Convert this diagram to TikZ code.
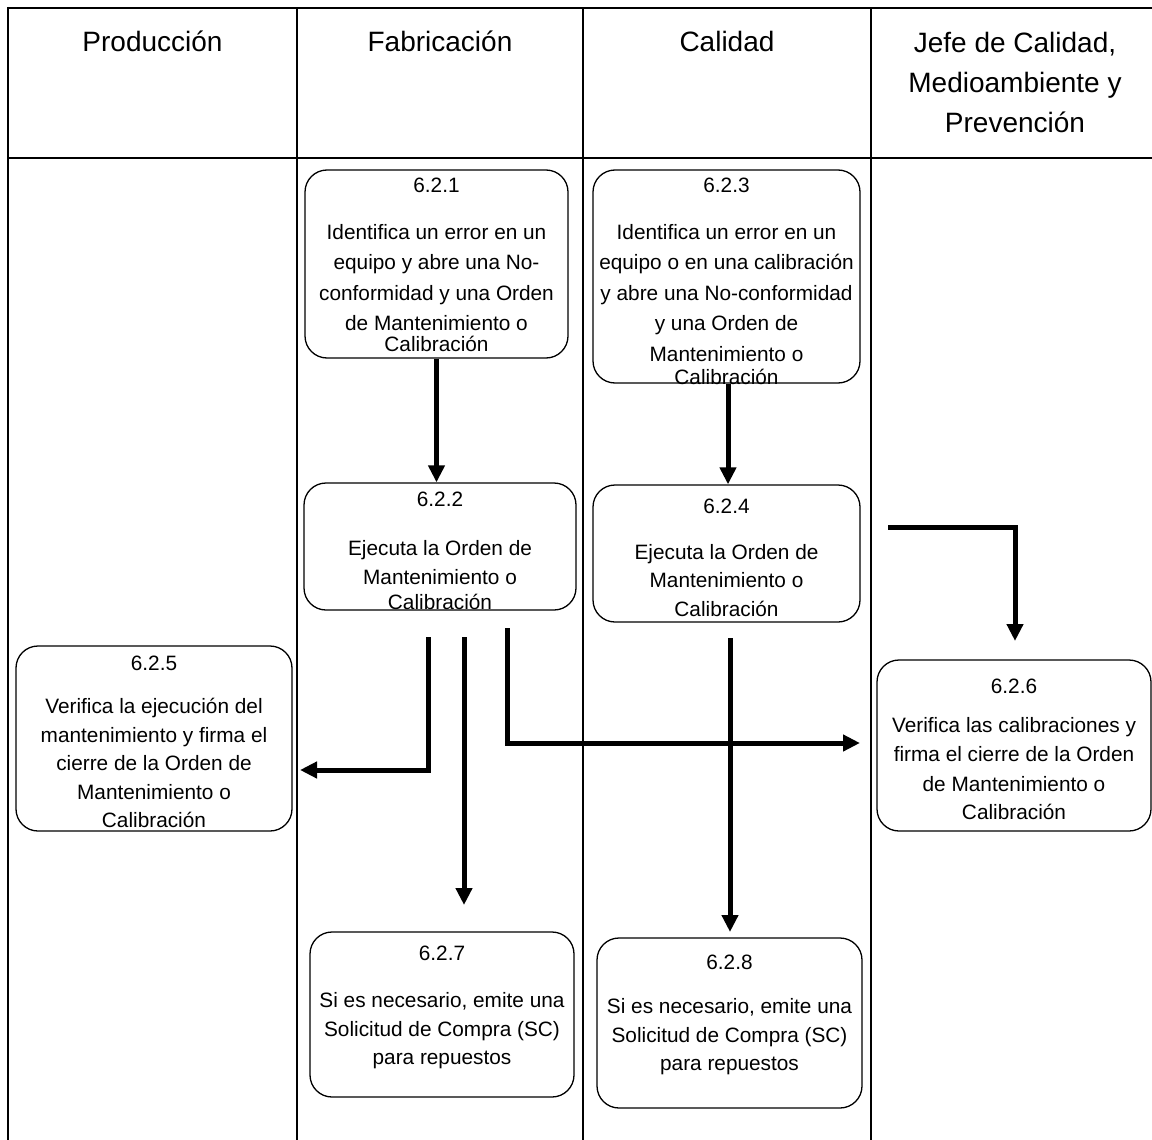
\documentclass[tikz,border=0pt]{standalone}
\usepackage{fontspec}
\setmainfont{Liberation Sans}
\usetikzlibrary{arrows.meta}

\begin{document}
\begin{tikzpicture}[x=1pt,y=-1pt,
  lane/.style={line width=1.6pt},
  frame/.style={line width=2.4pt},
  box/.style={draw, line width=1.3pt, rounded corners=22pt, inner sep=0pt},
  boxtext/.style={font=\fontsize{20.8}{28.5}\selectfont, align=center, anchor=north, inner sep=0pt},
  head/.style={font=\fontsize{28}{40}\selectfont, align=center, anchor=base, inner sep=0pt},
  flow/.style={line width=5pt, -{Triangle[length=17pt,width=16pt]}}]

\useasboundingbox (0,0) rectangle (1152,1140);
\fill[white] (0,0) rectangle (1152,1140);

% swimlane grid
\draw[frame] (8,8) -- (1152,8);
\draw[lane] (8,158) -- (1152,158);
\draw[lane] (8,7) -- (8,1140);
\draw[lane] (297,8) -- (297,1140);
\draw[lane] (583,8) -- (583,1140);
\draw[lane] (871,8) -- (871,1140);

% lane headers (base = baseline of the last line)
\node[head] (hprod) at (152.5,52) {Producción};
\node[head] (hfab)  at (440,52)   {Fabricación};
\node[head] (hcal)  at (727,52)   {Calidad};
\node[head] (hjefe) at (1015,132) {Jefe de Calidad,\\Medioambiente y\\Prevención};

% activity boxes
\node[box, minimum width=263pt, minimum height=188pt] (b621) at (436.5,264) {};
\node[box, minimum width=267pt, minimum height=213pt] (b623) at (726.5,276.5) {};
\node[box, minimum width=272pt, minimum height=127pt] (b622) at (440,546.5) {};
\node[box, minimum width=267pt, minimum height=137pt] (b624) at (726.5,553.5) {};
\node[box, minimum width=276pt, minimum height=185pt] (b625) at (154,738.5) {};
\node[box, minimum width=274pt, minimum height=171pt] (b626) at (1014,745.5) {};
\node[box, minimum width=264pt, minimum height=165pt] (b627) at (442,1014.5) {};
\node[box, minimum width=265pt, minimum height=170pt] (b628) at (729.5,1023) {};

% box texts (top = top of the step number)
\node[boxtext] (t621) at (436.5,178) {6.2.1\\[18pt]Identifica un error en un\\[2pt]equipo y abre una No-\\[2pt]conformidad y una Orden\\[2pt]de Mantenimiento o\\[-8pt]Calibración};
\node[boxtext] (t623) at (726.5,178) {6.2.3\\[18pt]Identifica un error en un\\[2pt]equipo o en una calibración\\[2pt]y abre una No-conformidad\\[2pt]y una Orden de\\[2pt]Mantenimiento o\\[-5pt]Calibración};
\node[boxtext] (t622) at (440,492) {6.2.2\\[20pt]Ejecuta la Orden de\\[0.5pt]Mantenimiento o\\[-3pt]Calibración};
\node[boxtext] (t624) at (726.5,499) {6.2.4\\[17pt]Ejecuta la Orden de\\Mantenimiento o\\Calibración};
\node[boxtext] (t625) at (154,656) {6.2.5\\[14.5pt]Verifica la ejecución del\\mantenimiento y firma el\\cierre de la Orden de\\Mantenimiento o\\Calibración};
\node[boxtext] (t626) at (1014,679) {6.2.6\\[10pt]Verifica las calibraciones y\\[1pt]firma el cierre de la Orden\\[1pt]de Mantenimiento o\\Calibración};
\node[boxtext] (t627) at (442,946) {6.2.7\\[18.5pt]Si es necesario, emite una\\Solicitud de Compra (SC)\\para repuestos};
\node[boxtext] (t628) at (729.5,955) {6.2.8\\[15.5pt]Si es necesario, emite una\\Solicitud de Compra (SC)\\para repuestos};

% free ends of the connectors
\coordinate (s625) at (428,637);
\coordinate (e625) at (300,770);
\coordinate (s627) at (464,637);
\coordinate (e627) at (464,905);
\coordinate (s626) at (507,628);
\coordinate (e626) at (860,743);
\coordinate (s628) at (730,638);
\coordinate (e628) at (730,932);
\coordinate (sj)   at (888,527);
\coordinate (ej)   at (1015,641);

% flow connectors
\draw[flow] (b621.south) -- (b621.south |- b622.north);
\draw[flow] ([xshift=1.5pt]b623.south) -- ([xshift=1.5pt]b623.south |- b624.north);
\draw[flow] (s625) |- (e625);
\draw[flow] (s627) -- (e627);
\draw[flow] (s626) |- (e626);
\draw[flow] (s628) -- (e628);
\draw[flow] (sj) -| (ej);

\end{tikzpicture}
\end{document}
